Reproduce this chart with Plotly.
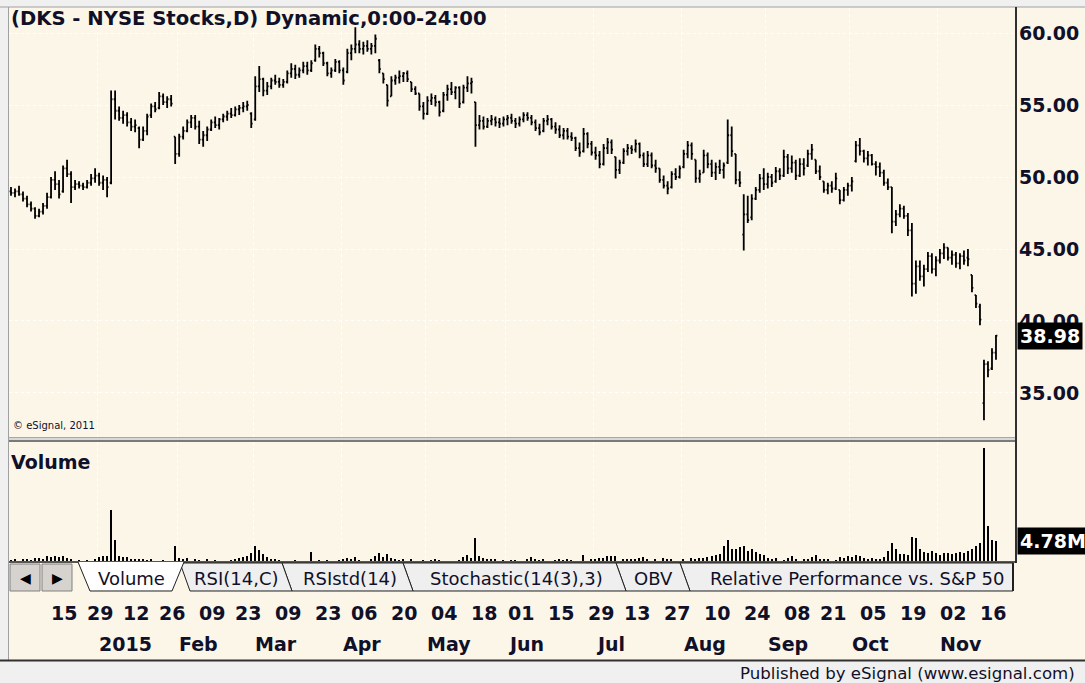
import pandas as pd
import plotly.graph_objects as go

W, H = 1085, 683
CREAM = "#fcf6e8"
GRAY = "#f0f0f0"
INK = "#101028"
FONT = "DejaVu Sans"

# NYSE closures in the shown span
holidays = ["2014-12-25", "2015-01-01", "2015-01-19", "2015-02-16",
            "2015-04-03", "2015-05-25", "2015-07-03", "2015-09-07"]
dates = [d.strftime("%Y-%m-%d") for d in
         pd.bdate_range("2014-12-01", "2015-11-20", freq="C", holidays=holidays)]

opens = [
    49.0, 48.9, 49.0, 48.8, 48.5, 48.1, 47.8, 47.3, 47.6, 48.0,
    48.6, 49.8, 49.5, 49.0, 50.6, 50.2, 49.3, 49.5, 49.4, 49.3,
    49.6, 49.9, 50.1, 49.6, 49.8, 49.6, 55.4, 54.6, 54.1, 54.3,
    53.8, 53.5, 53.4, 52.6, 53.2, 54.3, 54.9, 54.8, 55.6, 55.2,
    55.4, 52.8, 51.6, 52.8, 53.2, 53.8, 54.1, 53.5, 52.6, 52.9,
    53.3, 53.8, 53.6, 54.0, 54.2, 54.4, 54.3, 54.7, 54.8, 54.9,
    54.4, 54.0, 56.3, 56.8, 56.0, 56.3, 56.7, 56.6, 56.4, 56.6,
    57.2, 57.5, 57.1, 57.4, 57.7, 57.4, 58.1, 58.9, 58.6, 57.9,
    57.2, 57.4, 58.0, 57.4, 57.3, 58.6, 58.9, 59.2, 58.9, 59.1,
    58.9, 59.1, 58.1, 57.2, 56.4, 55.6, 56.7, 56.9, 57.0, 57.2,
    56.6, 56.1, 55.8, 54.9, 54.4, 55.3, 55.5, 55.2, 54.6, 55.7,
    56.1, 55.9, 56.2, 55.2, 56.2, 56.5, 55.2, 53.6, 53.9, 53.5,
    53.9, 54.0, 53.8, 53.7, 54.0, 54.1, 53.9, 53.7, 54.0, 54.3,
    54.1, 53.8, 53.4, 53.2, 53.9, 54.0, 53.5, 53.3, 52.9, 53.2,
    52.8, 52.7, 52.0, 51.8, 53.0, 52.3, 51.7, 51.5, 50.9, 52.0,
    52.4, 51.4, 50.5, 51.0, 51.8, 52.0, 51.9, 52.3, 51.5, 50.9,
    51.5, 50.8, 50.6, 49.8, 49.4, 49.3, 50.2, 50.0, 50.7, 51.6,
    52.2, 51.2, 49.9, 50.3, 51.5, 50.9, 50.3, 50.7, 50.5, 51.0,
    52.9, 51.6, 49.8, 46.0, 47.4, 47.2, 48.5, 49.1, 49.9, 49.5,
    50.0, 49.7, 50.4, 50.1, 51.4, 50.6, 51.0, 50.1, 50.9, 50.8,
    51.6, 51.2, 50.4, 49.7, 49.1, 49.4, 49.2, 49.1, 48.4, 49.1,
    49.4, 51.1, 52.2, 51.8, 51.3, 51.5, 50.9, 50.7, 50.3, 49.6,
    49.3, 46.9, 47.4, 47.8, 47.3, 46.3, 42.6, 43.8, 43.1, 43.6,
    44.5, 43.6, 44.2, 44.7, 45.1, 44.4, 44.6, 44.0, 44.5, 44.4,
    43.2, 41.8, 41.0, 34.3, 37.0, 36.7, 37.8,
]
highs = [
    49.3, 49.2, 49.4, 49.0, 48.7, 48.3, 47.9, 47.8, 48.2, 48.9,
    50.0, 50.4, 49.8, 50.8, 51.2, 50.4, 49.8, 49.7, 49.6, 49.8,
    50.2, 50.6, 50.3, 50.1, 50.0, 56.0, 56.0, 54.9, 54.6, 54.5,
    54.1, 54.0, 53.5, 53.5, 54.4, 55.1, 55.2, 55.9, 55.8, 55.6,
    55.7, 52.8, 53.0, 53.5, 54.0, 54.3, 54.3, 53.9, 53.2, 53.5,
    54.0, 54.2, 54.1, 54.4, 54.6, 54.8, 54.9, 55.0, 55.2, 55.3,
    54.5, 57.0, 57.7, 56.9, 56.6, 56.9, 57.1, 56.9, 56.8, 57.4,
    57.9, 57.8, 57.6, 58.0, 58.0, 58.1, 59.2, 59.1, 58.7, 58.0,
    57.6, 58.2, 58.1, 57.6, 58.9, 59.2, 60.4, 59.5, 59.4, 59.5,
    59.3, 59.9, 58.2, 57.2, 56.4, 57.0, 57.1, 57.4, 57.3, 57.4,
    56.6, 56.3, 55.8, 55.2, 55.6, 55.8, 55.7, 55.3, 55.9, 56.4,
    56.6, 56.3, 56.3, 56.4, 57.0, 56.9, 55.2, 54.3, 54.2, 54.1,
    54.3, 54.2, 54.1, 54.2, 54.3, 54.4, 54.1, 54.2, 54.5, 54.5,
    54.3, 54.0, 53.7, 54.1, 54.3, 54.1, 53.8, 53.6, 53.4, 53.4,
    53.1, 52.8, 52.4, 53.4, 53.1, 52.5, 52.1, 51.8, 52.3, 52.7,
    52.6, 51.4, 51.2, 52.0, 52.3, 52.2, 52.6, 52.4, 51.7, 51.8,
    51.7, 51.2, 50.6, 50.1, 49.7, 50.4, 50.6, 50.8, 51.9, 52.5,
    52.4, 51.2, 50.5, 51.9, 51.7, 51.2, 51.0, 51.2, 51.0, 54.0,
    53.5, 51.6, 50.4, 48.8, 48.7, 48.8, 49.3, 50.2, 50.6, 50.3,
    50.2, 50.7, 50.6, 51.9, 51.6, 51.5, 51.2, 51.3, 51.3, 51.9,
    52.3, 51.2, 50.8, 49.7, 49.6, 49.7, 50.3, 49.1, 49.3, 49.6,
    50.0, 52.5, 52.7, 51.9, 51.8, 51.6, 51.1, 51.0, 50.5, 49.9,
    49.3, 47.7, 48.1, 48.0, 47.5, 46.8, 44.2, 44.2, 43.9, 44.8,
    44.7, 44.5, 45.0, 45.4, 45.1, 44.9, 44.8, 44.7, 44.9, 45.0,
    43.2, 41.8, 41.2, 37.3, 37.2, 38.1, 39.03,
]
lows = [
    48.7, 48.6, 48.7, 48.3, 47.9, 47.6, 47.1, 47.2, 47.4, 47.8,
    48.5, 49.1, 48.5, 48.9, 50.0, 48.2, 49.1, 49.2, 49.1, 49.2,
    49.4, 49.6, 49.4, 49.1, 48.6, 49.5, 54.0, 53.9, 53.7, 53.5,
    53.2, 53.1, 52.0, 52.5, 52.9, 54.1, 54.5, 54.7, 55.0, 54.8,
    54.9, 50.9, 51.4, 52.6, 53.1, 53.4, 53.3, 52.3, 52.1, 52.5,
    53.2, 53.4, 53.3, 53.8, 53.9, 54.1, 54.2, 54.3, 54.5, 54.6,
    53.4, 53.9, 55.9, 55.6, 55.7, 56.1, 56.4, 56.2, 56.2, 56.5,
    56.9, 56.8, 56.9, 57.2, 57.1, 57.3, 58.0, 58.3, 57.7, 57.0,
    56.9, 57.3, 57.2, 56.4, 57.2, 58.1, 58.6, 58.6, 58.5, 58.7,
    58.5, 58.6, 57.2, 56.5, 54.9, 55.6, 56.4, 56.5, 56.6, 56.6,
    55.9, 55.7, 54.6, 54.0, 54.3, 55.0, 54.9, 54.2, 54.5, 55.3,
    55.7, 55.4, 54.8, 55.1, 55.9, 55.8, 52.1, 53.3, 53.3, 53.4,
    53.6, 53.5, 53.4, 53.5, 53.6, 53.7, 53.4, 53.5, 53.8, 53.9,
    53.6, 53.2, 52.9, 53.1, 53.6, 53.3, 53.0, 52.7, 52.6, 52.6,
    52.5, 51.8, 51.4, 51.7, 52.0, 51.5, 51.2, 50.6, 50.8, 51.6,
    51.6, 49.9, 50.2, 50.9, 51.5, 51.6, 51.7, 51.3, 50.7, 50.7,
    50.6, 50.3, 49.6, 49.2, 48.8, 49.2, 49.8, 49.9, 50.6, 51.3,
    51.2, 49.6, 49.6, 50.3, 50.6, 50.0, 49.8, 50.2, 49.9, 50.9,
    51.4, 49.5, 49.3, 44.9, 46.8, 47.0, 48.4, 48.9, 49.1, 49.2,
    49.3, 49.6, 49.8, 50.0, 50.2, 50.3, 49.8, 50.0, 50.1, 50.7,
    51.2, 50.2, 49.8, 48.9, 48.8, 48.9, 49.1, 48.1, 48.3, 48.7,
    49.0, 51.0, 51.5, 51.0, 50.8, 50.8, 50.1, 50.0, 49.4, 49.1,
    46.1, 46.6, 47.2, 47.1, 45.9, 41.7, 41.9, 42.8, 42.4, 43.4,
    43.3, 43.1, 44.0, 44.3, 44.2, 43.9, 43.7, 43.6, 43.9, 43.8,
    42.0, 40.9, 39.7, 33.1, 36.1, 36.6, 37.3,
]
closes = [
    48.9, 49.0, 48.8, 48.5, 48.1, 47.8, 47.3, 47.6, 48.0, 48.6,
    49.8, 49.5, 48.8, 50.6, 50.2, 49.3, 49.5, 49.4, 49.3, 49.6,
    49.9, 50.1, 49.6, 49.8, 49.3, 55.4, 54.6, 54.1, 54.3, 53.8,
    53.5, 53.6, 52.6, 53.2, 54.2, 54.9, 54.7, 55.6, 55.2, 55.4,
    55.1, 51.6, 52.8, 53.2, 53.8, 54.1, 53.5, 52.6, 52.9, 53.3,
    53.8, 53.6, 54.0, 54.2, 54.4, 54.3, 54.7, 54.8, 54.9, 55.0,
    53.7, 56.3, 56.8, 56.0, 56.3, 56.7, 56.6, 56.4, 56.6, 57.2,
    57.5, 57.1, 57.4, 57.7, 57.4, 57.9, 58.9, 58.6, 57.9, 57.2,
    57.4, 58.0, 57.4, 56.7, 58.6, 58.9, 59.2, 58.9, 59.1, 58.9,
    59.1, 59.6, 57.5, 56.8, 55.3, 56.7, 56.9, 57.0, 57.2, 56.8,
    56.1, 55.8, 54.9, 54.4, 55.3, 55.5, 55.2, 54.5, 55.7, 56.1,
    55.9, 56.2, 55.1, 56.2, 56.5, 56.6, 53.6, 53.9, 53.5, 53.9,
    54.0, 53.8, 53.7, 54.0, 54.1, 53.9, 53.7, 54.0, 54.3, 54.1,
    53.8, 53.4, 53.1, 53.9, 54.0, 53.5, 53.3, 52.9, 53.2, 52.8,
    52.7, 52.0, 51.7, 53.0, 52.3, 51.7, 51.5, 50.9, 52.0, 52.4,
    51.9, 50.5, 51.0, 51.8, 52.0, 51.9, 52.3, 51.5, 50.9, 51.5,
    50.8, 50.6, 49.8, 49.4, 49.2, 50.2, 50.0, 50.6, 51.6, 52.2,
    51.6, 49.9, 50.2, 51.5, 50.9, 50.3, 50.7, 50.5, 50.8, 52.9,
    51.8, 49.8, 49.6, 47.4, 47.0, 48.5, 49.1, 49.9, 49.5, 50.0,
    49.6, 50.4, 50.1, 51.4, 50.6, 51.0, 50.1, 50.9, 50.6, 51.6,
    51.9, 50.4, 50.0, 49.1, 49.4, 49.2, 49.9, 48.4, 49.1, 49.4,
    49.7, 52.2, 51.8, 51.3, 51.5, 50.9, 50.7, 50.3, 49.6, 49.3,
    46.9, 47.4, 47.8, 47.3, 46.3, 42.6, 43.8, 43.1, 43.6, 44.5,
    43.6, 44.2, 44.7, 45.1, 44.4, 44.6, 44.0, 44.5, 44.2, 44.3,
    42.3, 41.2, 40.1, 37.0, 36.6, 37.8, 38.98,
]
# volume, millions of shares
volumes = [
    1.1, 1.2, 0.95, 1.2, 1.3, 1.1, 1.4, 1.5, 1.3, 1.9,
    1.6, 1.8, 1.7, 1.9, 1.5, 1.3, 0.95, 1.1, 0.95, 1.0,
    0.95, 1.2, 1.6, 1.8, 1.9, 10.8, 4.9, 1.8, 1.7, 1.6,
    1.3, 1.2, 1.3, 1.2, 1.1, 1.2, 0.95, 0.95, 1.0, 0.95,
    0.95, 3.8, 1.4, 1.3, 1.4, 0.95, 1.2, 1.1, 0.95, 1.2,
    0.95, 1.1, 0.95, 0.95, 0.95, 1.1, 1.3, 1.4, 1.7, 1.9,
    2.4, 3.8, 3.0, 2.3, 1.6, 1.3, 1.2, 1.1, 0.95, 0.95,
    0.95, 1.1, 0.95, 0.95, 0.95, 2.6, 0.95, 1.1, 0.95, 1.1,
    0.95, 0.95, 1.1, 1.2, 1.5, 1.2, 1.6, 1.1, 0.95, 0.95,
    1.2, 1.9, 2.4, 1.7, 2.2, 1.4, 1.2, 1.1, 1.2, 0.95,
    1.2, 0.95, 0.95, 1.1, 0.95, 1.1, 1.2, 1.1, 0.95, 0.95,
    0.95, 0.95, 1.1, 1.6, 2.0, 1.4, 5.3, 1.9, 1.4, 1.3,
    1.2, 1.2, 0.95, 1.1, 0.95, 1.1, 1.1, 0.95, 0.95, 1.2,
    1.6, 1.2, 1.1, 1.2, 0.95, 0.95, 1.1, 1.2, 1.1, 1.2,
    1.1, 0.95, 0.95, 2.0, 0.95, 1.2, 1.2, 1.4, 1.5, 1.8,
    1.8, 1.9, 0.95, 1.2, 1.3, 1.2, 1.3, 1.5, 1.6, 1.2,
    0.95, 1.2, 0.95, 1.5, 1.2, 1.2, 0.95, 0.95, 1.2, 0.95,
    1.4, 1.3, 1.4, 1.5, 1.6, 1.9, 2.0, 2.3, 3.8, 4.9,
    3.3, 3.3, 3.6, 3.8, 2.8, 3.3, 2.6, 2.3, 2.0, 1.4,
    1.2, 1.5, 0.95, 1.1, 1.5, 1.8, 1.3, 0.95, 1.3, 1.2,
    1.6, 2.0, 1.3, 1.2, 1.3, 0.95, 1.1, 1.7, 1.5, 1.8,
    1.6, 2.0, 1.9, 1.4, 1.3, 1.5, 1.3, 1.2, 1.7, 2.8,
    4.4, 3.3, 2.3, 2.3, 2.0, 5.6, 5.3, 3.3, 2.6, 2.4,
    2.8, 2.4, 2.0, 2.4, 2.4, 2.2, 2.4, 2.6, 2.4, 2.8,
    3.3, 3.8, 4.4, 22.8, 7.6, 4.9, 4.78,
]
assert len(dates) == len(opens) == len(highs) == len(lows) == len(closes) == len(volumes)

day_ticks = ["2014-12-15", "2014-12-29", "2015-01-12", "2015-01-26", "2015-02-09",
             "2015-02-23", "2015-03-09", "2015-03-23", "2015-04-06", "2015-04-20",
             "2015-05-04", "2015-05-18", "2015-06-01", "2015-06-15", "2015-06-29",
             "2015-07-13", "2015-07-27", "2015-08-10", "2015-08-24", "2015-09-08",
             "2015-09-21", "2015-10-05", "2015-10-19", "2015-11-02", "2015-11-16"]
month_ticks = ["2015-01-02", "2015-02-02", "2015-03-02", "2015-04-01", "2015-05-01",
               "2015-06-01", "2015-07-01", "2015-08-03", "2015-09-01", "2015-10-01",
               "2015-11-02"]
month_labels = ["2015", "Feb", "Mar", "Apr", "May", "Jun", "Jul", "Aug", "Sep", "Oct", "Nov"]
price_ticks = [35, 40, 45, 50, 55, 60]
last_close = closes[-1]
last_volume = volumes[-1]

pos = {d: i for i, d in enumerate(dates)}


def px(v):
    return v / W


def py(v):
    return 1 - v / H


def rect(x0, y0, x1, y1, fill, line=None, width=0, layer="below"):
    return dict(type="rect", xref="paper", yref="paper", layer=layer,
                x0=px(x0), x1=px(x1), y0=py(y1), y1=py(y0),
                fillcolor=fill, line=dict(color=line or fill, width=width))


def hline(x0, x1, y, color, width=1):
    return dict(type="line", xref="paper", yref="paper", x0=px(x0), x1=px(x1),
                y0=py(y), y1=py(y), line=dict(color=color, width=width))


def vline(x, y0, y1, color, width=1):
    return dict(type="line", xref="paper", yref="paper", x0=px(x), x1=px(x),
                y0=py(y0), y1=py(y1), line=dict(color=color, width=width))


def poly(points, fill, line, width=1, closed=True):
    d = "M " + " L ".join(f"{px(a):.5f},{py(b):.5f}" for a, b in points)
    if closed:
        d += " Z"
    return dict(type="path", xref="paper", yref="paper", path=d,
                fillcolor=fill, line=dict(color=line, width=width))


def label(text, x, y, size, bold=False, color=INK, anchor="left", **kw):
    return dict(text=text, x=px(x), y=py(y), xref="paper", yref="paper",
                xanchor=anchor, yanchor="middle", showarrow=False,
                font=dict(family=FONT, size=size, color=color,
                          weight="bold" if bold else "normal"), **kw)


fig = go.Figure()
fig.add_trace(go.Ohlc(
    x=dates, open=opens, high=highs, low=lows, close=closes,
    increasing=dict(line=dict(color="black", width=1.8)),
    decreasing=dict(line=dict(color="black", width=1.8)),
    tickwidth=0.35, xaxis="x", yaxis="y", showlegend=False, hoverinfo="skip",
))
fig.add_trace(go.Bar(
    x=dates, y=volumes, marker=dict(color="black", line=dict(width=0)), width=0.35,
    xaxis="x2", yaxis="y2", showlegend=False, hoverinfo="skip",
))

grid_x = [pos[d] - 0.5 for d in month_ticks]
xcommon = dict(type="category", range=[-0.5, 251.0], tickmode="array", tickvals=grid_x,
               showticklabels=False, ticks="", showgrid=True, gridcolor="white",
               griddash="dot", gridwidth=1, zeroline=False, showline=False, fixedrange=True)

shapes = [
    rect(0, 0, W, 7, GRAY),
    hline(0, W, 7, "#a0a0a0"),
    rect(0, 0, 8, 662, GRAY),
    vline(8.5, 7, 661, "#a0a0a0"),
    # pane separator
    rect(9, 437, 1016, 442, "#d8d8d8", layer="above"),
    hline(9, 1016, 441, "#7a7a7a", 2),
    hline(9, 1016, 437.5, "#a8a8a8", 1),
    # pane frame
    vline(1016, 7, 563, "#303030", 2),
    hline(9, 1016, 562, "#202020", 1.5),
    # footer
    rect(0, 661, W, H, GRAY),
    hline(0, W, 660.5, "#303030", 2),
    # scroll buttons
    rect(10, 564, 40, 591, "#d6d3ce", "#808080", 1),
    rect(42, 564, 72, 591, "#d6d3ce", "#808080", 1),
]

tabs = [
    ("Relative Performance vs. S&P 50", 680, 1013, 857),
    ("OBV", 616, 680, 653),
    ("Stochastic(14(3),3)", 403, 616, 516),
    ("RSIstd(14)", 282, 403, 350),
    ("RSI(14,C)", 180, 282, 236),
]
for _, xl, xr, _ in tabs:
    xb = min(xr + 10, 1013)
    shapes.append(poly([(xl, 563), (xl + 10, 591), (xb, 591), (xr, 563)], "#efefef", "#202020", 1))
shapes.append(vline(1013, 563, 591, "#202020", 2))
# active tab
shapes.append(poly([(78, 562), (90, 591), (172, 591), (184, 562)], "white", "white", 0))
shapes.append(poly([(78, 562), (90, 591), (172, 591), (184, 562)], "rgba(0,0,0,0)", "#202020", 1, closed=False))

annotations = [
    label("(DKS - NYSE Stocks,D) Dynamic,0:00-24:00", 9, 18, 19.6, bold=True),
    label("© eSignal, 2011", 11, 425, 10),
    label("Volume", 9, 462, 19, bold=True),
    dict(text=f"{last_close:.2f}", x=px(1017), y=last_close, xref="paper", yref="y",
         xanchor="left", yanchor="middle", showarrow=False, bgcolor="black", borderpad=2,
         font=dict(family=FONT, size=19, color="white", weight="bold")),
    dict(text=f"{last_volume:.2f}M", x=px(1017), y=last_volume, xref="paper", yref="y2",
         xanchor="left", yanchor="middle", showarrow=False, bgcolor="black", borderpad=2,
         font=dict(family=FONT, size=19, color="white", weight="bold")),
    label("◀", 25, 578, 14, color="black", anchor="center"),
    label("▶", 57, 578, 14, color="black", anchor="center"),
    label("Volume", 131, 578, 18, anchor="center"),
    label("Published by eSignal (www.esignal.com)", 1077, 673, 16.6, anchor="right"),
]
for text, _, _, xc in tabs:
    annotations.append(label(text, xc, 578, 18, anchor="center"))
for d in day_ticks:
    annotations.append(dict(text=d[-2:], x=pos[d], xref="x2", y=py(613), yref="paper",
                            xanchor="left", yanchor="middle", showarrow=False, xshift=-2,
                            font=dict(family=FONT, size=19, color=INK, weight="bold")))
for d, lab in zip(month_ticks, month_labels):
    annotations.append(dict(text=lab, x=pos[d], xref="x2", y=py(644), yref="paper",
                            xanchor="left", yanchor="middle", showarrow=False, xshift=-2,
                            font=dict(family=FONT, size=19, color=INK, weight="bold")))

fig.update_layout(
    width=W, height=H, margin=dict(l=0, r=0, t=0, b=0),
    paper_bgcolor=CREAM, plot_bgcolor=CREAM, showlegend=False, bargap=0,
    xaxis=dict(domain=[px(9), px(1016)], anchor="y", rangeslider=dict(visible=False), **xcommon),
    xaxis2=dict(domain=[px(9), px(1016)], anchor="y2", matches="x", **xcommon),
    yaxis=dict(domain=[py(437), py(8)], range=[31.944, 61.736], side="right",
               tickmode="array", tickvals=price_ticks, ticktext=[f"{v:.2f}" for v in price_ticks],
               tickfont=dict(family=FONT, size=19, color=INK, weight="bold"), ticks="",
               ticklabelstandoff=2, showgrid=True, gridcolor="white", griddash="dot",
               zeroline=False, showline=False, fixedrange=True),
    yaxis2=dict(domain=[py(561), py(442)], range=[0.9, 24.0], showticklabels=False, ticks="",
                showgrid=False, zeroline=False, showline=False, fixedrange=True),
    shapes=shapes, annotations=annotations,
)

fig.write_html("out.html", config={"displayModeBar": False},
               post_script="document.body.style.margin='0';document.body.style.overflow='hidden';")
